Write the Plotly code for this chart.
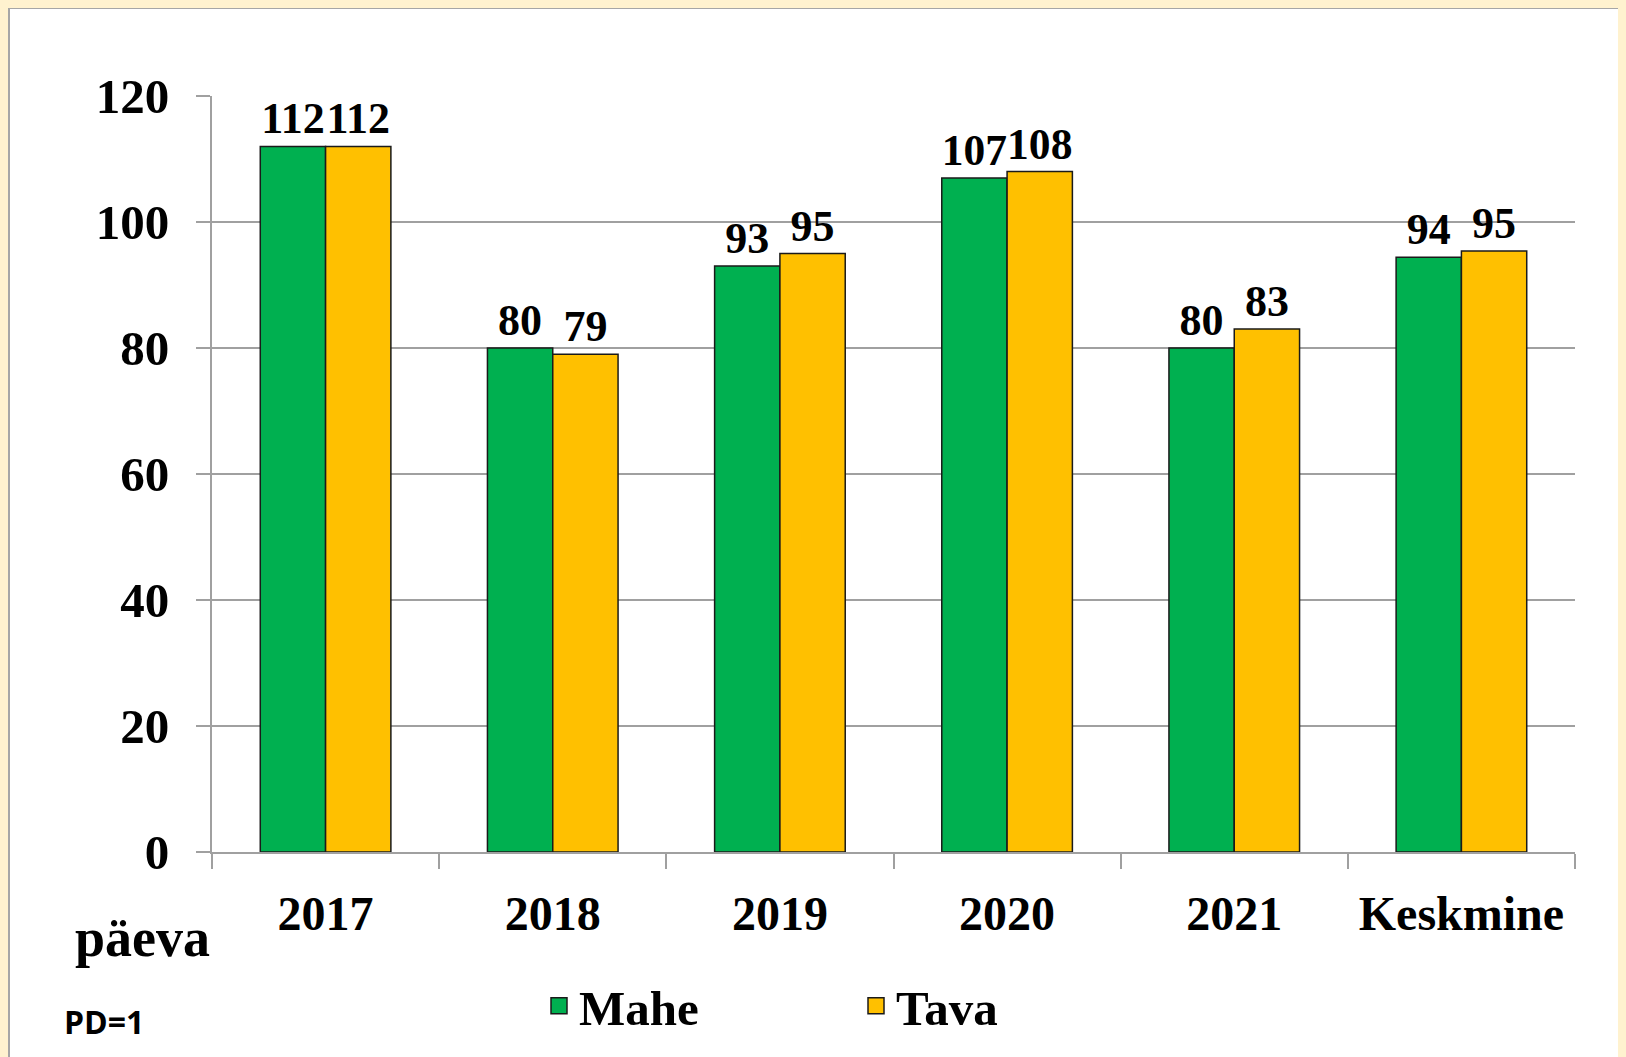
import plotly.graph_objects as go

categories = ["2017", "2018", "2019", "2020", "2021", "Keskmine"]
mahe = [112, 80, 93, 107, 80, 94.4]
tava = [112, 79, 95, 108, 83, 95.4]
series_names = ["Mahe", "Tava"]
series_colors = ["#00B050", "#FFC000"]
y_ticks = [0, 20, 40, 60, 80, 100, 120]

# figure sits at an 8px body offset inside the 1626x1057 page
W, H = 1618, 1049
L, R, T, B = 204, 51, 88, 205
pw, ph = W - L - R, H - T - B

def px(x):
    return (x - L) / pw

def py(y):
    return (H - B - y) / ph

serif = "Liberation Serif, Times New Roman, serif"
bold = dict(family=serif, color="black", weight="bold")

fig = go.Figure()
for name, vals, col in zip(series_names, [mahe, tava], series_colors):
    fig.add_trace(go.Bar(
        x=categories, y=vals, name=name, showlegend=False,
        marker=dict(color=col, line=dict(color="#1a1a1a", width=1.5)),
        texttemplate="%{y:.0f}", textposition="outside",
        textfont=dict(size=44, **bold), cliponaxis=False,
    ))
for name, col in zip(series_names, series_colors):
    fig.add_trace(go.Scatter(
        x=[None], y=[None], name=name, mode="markers",
        marker=dict(symbol="square", size=16, color=col, line=dict(color="#1a1a1a", width=1.5)),
    ))

fig.update_layout(
    width=W, height=H,
    margin=dict(l=L, r=R, t=T, b=B),
    paper_bgcolor="white",
    plot_bgcolor="rgba(0,0,0,0)",
    barmode="group", bargap=0.425, bargroupgap=0,
    showlegend=True,
    legend=dict(orientation="h", x=px(531), y=py(998), xanchor="left", yanchor="middle",
                font=dict(size=49, **bold), entrywidth=272, bgcolor="rgba(0,0,0,0)",
                itemwidth=30),
    xaxis=dict(type="category", showgrid=False, showline=True, linecolor="#A0A0A0", linewidth=2,
               ticks="outside", tickson="boundaries", ticklen=15, tickcolor="#A0A0A0", tickwidth=2,
               tickfont=dict(size=48, **bold), ticklabelstandoff=18),
    yaxis=dict(range=[0, 120], tickvals=y_ticks, showgrid=True, gridcolor="#A0A0A0", gridwidth=2,
               showline=True, linecolor="#A0A0A0", linewidth=2, zeroline=False,
               ticks="outside", ticklen=14, tickcolor="#A0A0A0", tickwidth=2,
               tickfont=dict(size=49, **bold), ticklabelstandoff=17),
    shapes=[dict(type="rect", xref="paper", yref="paper", x0=px(1), x1=px(W + 10), y0=py(H + 10), y1=py(0),
                 fillcolor="rgba(0,0,0,0)", line=dict(color="#A6A6A6", width=2), layer="below")],
    annotations=[
        dict(text="päeva", xref="paper", yref="paper", x=px(134), y=py(930), showarrow=False,
             xanchor="center", yanchor="middle", font=dict(size=54, **bold)),
        dict(text="PD=1", xref="paper", yref="paper", x=px(96), y=py(1013), showarrow=False,
             xanchor="center", yanchor="middle",
             font=dict(family="Open Sans, Liberation Sans, sans-serif", size=32, color="black", weight="bold")),
    ],
)

fig.write_html("out.html", post_script="document.body.style.background='#FFF2CF';")
